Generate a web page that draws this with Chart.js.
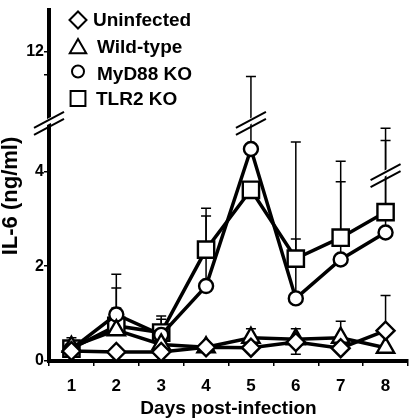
<!DOCTYPE html>
<html>
<head>
<meta charset="utf-8">
<script src="https://cdn.jsdelivr.net/npm/chart.js"></script>
<style>
  html, body { margin: 0; padding: 0; background: #fff; }
</style>
</head>
<body>
<canvas id="il6Chart" width="410" height="418"></canvas>
<script>
var days = ['1', '2', '3', '4', '5', '6', '7', '8'];
var uninfected = [0.21, 0.19, 0.19, 0.29, 0.28, 0.40, 0.27, 0.64];
var wildType   = [0.30, 0.65, 0.35, 0.29, 0.49, 0.46, 0.49, 0.28];
var myd88      = [0.25, 0.98, 0.55, 1.58, 4.47, 1.32, 2.14, 2.71];
var tlr2       = [0.26, 0.74, 0.60, 2.35, 3.61, 2.16, 2.60, 3.14];

// upper ends of error bars (null = none drawn)
var uninfectedErr = [null, null, null, null, null, null, null, 1.38];
var wildTypeErr   = [0.49, 1.12, null, null, 0.68, 0.68, 0.84, null];
var wildTypeErrLow = [null, null, null, null, null, 0.14, null, null];
var myd88Err      = [null, 1.54, 0.88, 3.06, 6.00, 2.57, 3.78, 4.65];
var tlr2Err       = [null, 1.83, 0.95, 3.22, null, 4.62, 4.21, 4.91];
var errBreakAt    = [null, null, null, null, 5.0, null, null, 3.9];

var yMax = 7.41;
var yTicks = [0, 2, 4, 6.04, 6.53, yMax];
var yTickLabels = ['0', '2', '4', '', '12', null];
var axisBreakAt = 5.0;

var FONT = "'Liberation Sans', Arial, Helvetica, sans-serif";

function slashPair(ctx, cx, cy) {
    // two parallel slanted strokes with a white gap between them
    ctx.save();
    ctx.fillStyle = '#fff';
    ctx.beginPath();
    ctx.moveTo(cx - 15, cy + 8);
    ctx.lineTo(cx + 15, cy - 8);
    ctx.lineTo(cx + 15, cy - 14);
    ctx.lineTo(cx - 15, cy + 2);
    ctx.closePath();
    ctx.fill();
    ctx.strokeStyle = '#000';
    ctx.lineWidth = 2;
    ctx.beginPath();
    ctx.moveTo(cx - 15, cy + 11);
    ctx.lineTo(cx + 15, cy - 5);
    ctx.moveTo(cx - 15, cy + 4);
    ctx.lineTo(cx + 15, cy - 12);
    ctx.stroke();
    ctx.restore();
}

var errorBarPlugin = {
    id: 'errorBars',
    beforeDatasetsDraw: function (chart) {
        var ctx = chart.ctx;
        var xs = chart.scales.x, ys = chart.scales.y;
        var sets = [
            [uninfected, uninfectedErr],
            [wildType, wildTypeErr],
            [myd88, myd88Err],
            [tlr2, tlr2Err]
        ];
        ctx.save();
        ctx.strokeStyle = '#000';
        ctx.lineWidth = 1.5;
        sets.forEach(function (s) {
            for (var i = 0; i < days.length; i++) {
                if (s[1][i] == null) continue;
                var x = xs.getPixelForValue(i);
                var y0 = ys.getPixelForValue(s[0][i]);
                var y1 = ys.getPixelForValue(s[1][i]);
                ctx.beginPath();
                ctx.moveTo(x, y0);
                ctx.lineTo(x, y1);
                ctx.moveTo(x - 5, y1);
                ctx.lineTo(x + 5, y1);
                ctx.stroke();
            }
        });
        for (var i = 0; i < days.length; i++) {
            if (wildTypeErrLow[i] == null) continue;
            var x = xs.getPixelForValue(i);
            var yl = ys.getPixelForValue(wildTypeErrLow[i]);
            ctx.beginPath();
            ctx.moveTo(x, ys.getPixelForValue(wildType[i]));
            ctx.lineTo(x, yl);
            ctx.moveTo(x - 5, yl);
            ctx.lineTo(x + 5, yl);
            ctx.stroke();
        }
        ctx.restore();
        for (var j = 0; j < days.length; j++) {
            if (errBreakAt[j] == null) continue;
            slashPair(ctx, xs.getPixelForValue(j), ys.getPixelForValue(errBreakAt[j]));
        }
    },
    afterDraw: function (chart) {
        var ctx = chart.ctx;
        var area = chart.chartArea;
        slashPair(ctx, area.left, chart.scales.y.getPixelForValue(axisBreakAt));

        // y-axis title
        ctx.save();
        ctx.translate(11, 196);
        ctx.rotate(-Math.PI / 2);
        ctx.font = 'bold 22px ' + FONT;
        ctx.fillStyle = '#000';
        ctx.textAlign = 'center';
        ctx.textBaseline = 'middle';
        ctx.fillText('IL-6 (ng/ml)', 0, 0);
        ctx.restore();

        // legend in the upper left of the plot
        ctx.save();
        ctx.font = 'bold 19px ' + FONT;
        ctx.textBaseline = 'middle';
        var markY = [20, 48.5, 71.5, 98.5];
        var markR = [8.5, 9.5, 6, 10.5];
        var textY = [21, 48, 75, 99.5];
        var textX = [93, 97, 97, 96];
        chart.data.datasets.forEach(function (ds, k) {
            ctx.strokeStyle = '#000';
            ctx.fillStyle = '#fff';
            ctx.lineWidth = 2;
            Chart.helpers.drawPoint(ctx, {
                pointStyle: ds.pointStyle,
                radius: markR[k],
                rotation: 0,
                borderWidth: 2
            }, 78, markY[k]);
            ctx.fillStyle = '#000';
            ctx.fillText(ds.label, textX[k], textY[k]);
        });
        ctx.restore();
    }
};

function series(label, data, style, radius) {
    return {
        label: label,
        data: data,
        borderColor: '#000',
        borderWidth: 3.5,
        pointStyle: style,
        pointRadius: radius,
        pointBorderWidth: 2.4,
        pointBorderColor: '#000',
        pointBackgroundColor: '#fff',
        fill: false,
        tension: 0,
        clip: false
    };
}

var ctx = document.getElementById('il6Chart').getContext('2d');
var il6Chart = new Chart(ctx, {
    type: 'line',
    data: {
        labels: days,
        datasets: [
            series('Uninfected', uninfected, 'rectRot', 9),
            series('Wild-type', wildType, 'triangle', 10),
            series('MyD88 KO', myd88, 'circle', 7),
            series('TLR2 KO', tlr2, 'rect', 11.5)
        ]
    },
    options: {
        responsive: false,
        animation: false,
        layout: { autoPadding: false, padding: { top: 0, right: 2, left: 0, bottom: 0 } },
        plugins: { legend: { display: false }, tooltip: { enabled: false } },
        scales: {
            x: {
                offset: true,
                grid: { drawOnChartArea: false, drawTicks: true, tickLength: 5, color: '#000', lineWidth: 1.5, offset: true },
                border: { color: '#000', width: 4 },
                ticks: { color: '#000', padding: 10, font: { family: FONT, size: 17, weight: 'bold' } },
                title: { display: true, text: 'Days post-infection', color: '#000', padding: { top: 0, bottom: -2 },
                         font: { family: FONT, size: 19, weight: 'bold' } },
                afterFit: function (s) { s.height = 57; }
            },
            y: {
                min: 0,
                max: yMax,
                afterBuildTicks: function (s) { s.ticks = yTicks.map(function (v) { return { value: v }; }); },
                grid: {
                    drawOnChartArea: false, drawTicks: true, tickLength: 5, lineWidth: 1.5,
                    color: function (c) { return c.index === yTicks.length - 1 ? 'rgba(0,0,0,0)' : '#000'; }
                },
                border: { color: '#000', width: 4 },
                ticks: { color: '#000', padding: 0, autoSkip: false,
                         callback: function (v, i) { return yTickLabels[i]; },
                         font: { family: FONT, size: 16, weight: 'bold' } },
                afterFit: function (s) { s.width = 49; }
            }
        }
    },
    plugins: [errorBarPlugin]
});
</script>
</body>
</html>
